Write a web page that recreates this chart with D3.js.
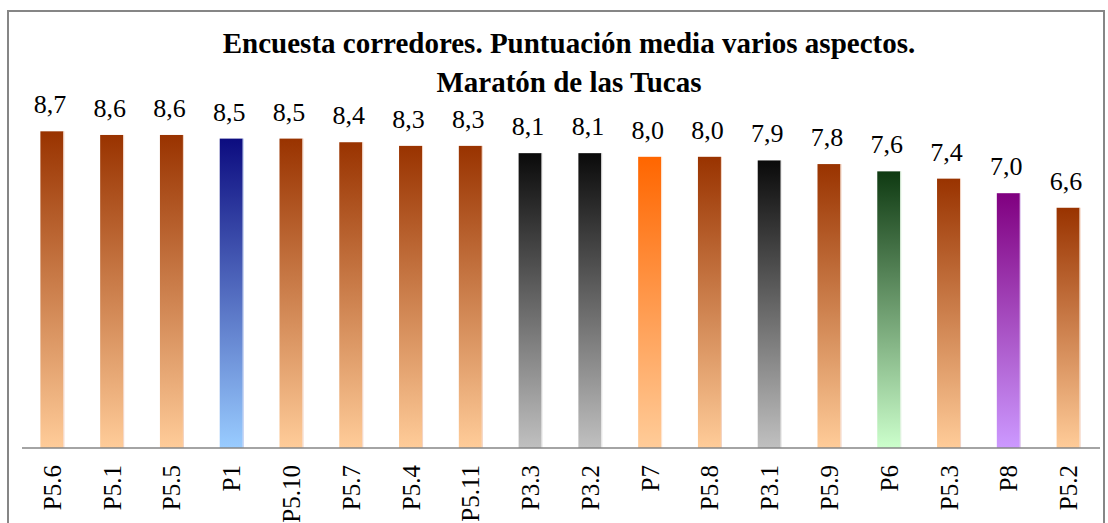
<!DOCTYPE html>
<html>
<head>
<meta charset="utf-8">
<script src="https://cdn.jsdelivr.net/npm/d3@7"></script>
<style>
  html, body { margin: 0; padding: 0; background: #fff; }
  svg { display: block; }
  svg text { font-family: "Liberation Serif", "Times New Roman", Times, serif; }
</style>
</head>
<body>
<svg id="chart" width="1108" height="523"></svg>
<script>
const titleLines = ["Encuesta corredores. Puntuación media varios aspectos.", "Maratón de las Tucas"];
const categories = ["P5.6","P5.1","P5.5","P1","P5.10","P5.7","P5.4","P5.11","P3.3","P3.2","P7","P5.8","P3.1","P5.9","P6","P5.3","P8","P5.2"];
const values = [8.7, 8.6, 8.6, 8.5, 8.5, 8.4, 8.3, 8.3, 8.1, 8.1, 8.0, 8.0, 7.9, 7.8, 7.6, 7.4, 7.0, 6.6];
const groupKeys = ["P5", "P3", "P1", "P6", "P7", "P8"];
const groupTop = ["#993300", "#0a0a0a", "#0c0c80", "#0f3a12", "#ff6600", "#800080"];
const groupBottom = ["#ffcc99", "#c0c0c0", "#99ccff", "#ccffcc", "#ffcc99", "#cc99ff"];
const groupEdge = ["#f3d2c0", "#e6e6e6", "#b8c8f0", "#d8f0d8", "#ffe0c8", "#e0c8f0"];

const FONT = "Liberation Serif, Times New Roman, Times, serif";
const svg = d3.select("#chart");

// outer border
svg.append("rect").attr("x", 8).attr("y", 11).attr("width", 1096).attr("height", 520)
  .attr("fill", "#fff").attr("stroke", "#868686").attr("stroke-width", 2);

const x = d3.scaleBand().domain(categories).range([22, 1098]).paddingInner(0.615).paddingOuter(0.3075);
const y = d3.scaleLinear().domain([0, 10]).range([448, 84]);

const groupOf = c => c.split(".")[0];
const gi = c => groupKeys.indexOf(groupOf(c));

const defs = svg.append("defs");
groupKeys.forEach((k, i) => {
  const g = defs.append("linearGradient").attr("id", "grad-" + k)
    .attr("x1", 0).attr("y1", 0).attr("x2", 0).attr("y2", 1);
  g.append("stop").attr("offset", "0%").attr("stop-color", groupTop[i]);
  g.append("stop").attr("offset", "100%").attr("stop-color", groupBottom[i]);
});

const data = categories.map((c, i) => ({ c, v: values[i] }));

svg.append("g").selectAll("rect").data(data).join("rect")
  .attr("x", d => x(d.c))
  .attr("y", d => y(d.v))
  .attr("width", x.bandwidth())
  .attr("height", d => y(0) - y(d.v))
  .attr("fill", d => "url(#grad-" + groupOf(d.c) + ")");

// light right edge
svg.append("g").selectAll("line").data(data).join("line")
  .attr("x1", d => x(d.c) + x.bandwidth() + 0.5)
  .attr("x2", d => x(d.c) + x.bandwidth() + 0.5)
  .attr("y1", d => y(d.v))
  .attr("y2", y(0))
  .attr("stroke", d => groupEdge[gi(d.c)])
  .attr("stroke-width", 1);

// axis
const xAxis = d3.axisBottom(x).tickSize(0).tickPadding(0);
const ax = svg.append("g").attr("transform", `translate(0,${y(0)})`).call(xAxis)
  .attr("font-family", FONT).attr("font-size", 25);
ax.select(".domain").attr("stroke", "#868686").attr("stroke-width", 1.5)
  .attr("d", "M22,0H1100");
ax.selectAll(".tick text")
  .attr("transform", "rotate(-90)")
  .attr("x", -17)
  .attr("y", 0)
  .attr("dy", "0.36em")
  .attr("text-anchor", "end")
  .attr("fill", "#000")
  .attr("font-family", FONT)
  .attr("font-size", 25);

// value labels
const fmt = d3.formatLocale({ decimal: ",", thousands: ".", grouping: [3], currency: ["", "€"] }).format(".1f");
svg.append("g").selectAll("text").data(data).join("text")
  .attr("x", d => x(d.c) + x.bandwidth() / 2 - 2)
  .attr("y", d => y(d.v) - 18)
  .attr("text-anchor", "middle")
  .attr("font-family", FONT)
  .attr("font-size", 26)
  .text(d => fmt(d.v));

// title
svg.append("g").selectAll("text").data(titleLines).join("text")
  .attr("x", 569)
  .attr("y", (d, i) => 53 + i * 39)
  .attr("text-anchor", "middle")
  .attr("font-family", FONT)
  .attr("font-weight", "bold")
  .attr("font-size", 29)
  .text(d => d);
</script>
</body>
</html>
